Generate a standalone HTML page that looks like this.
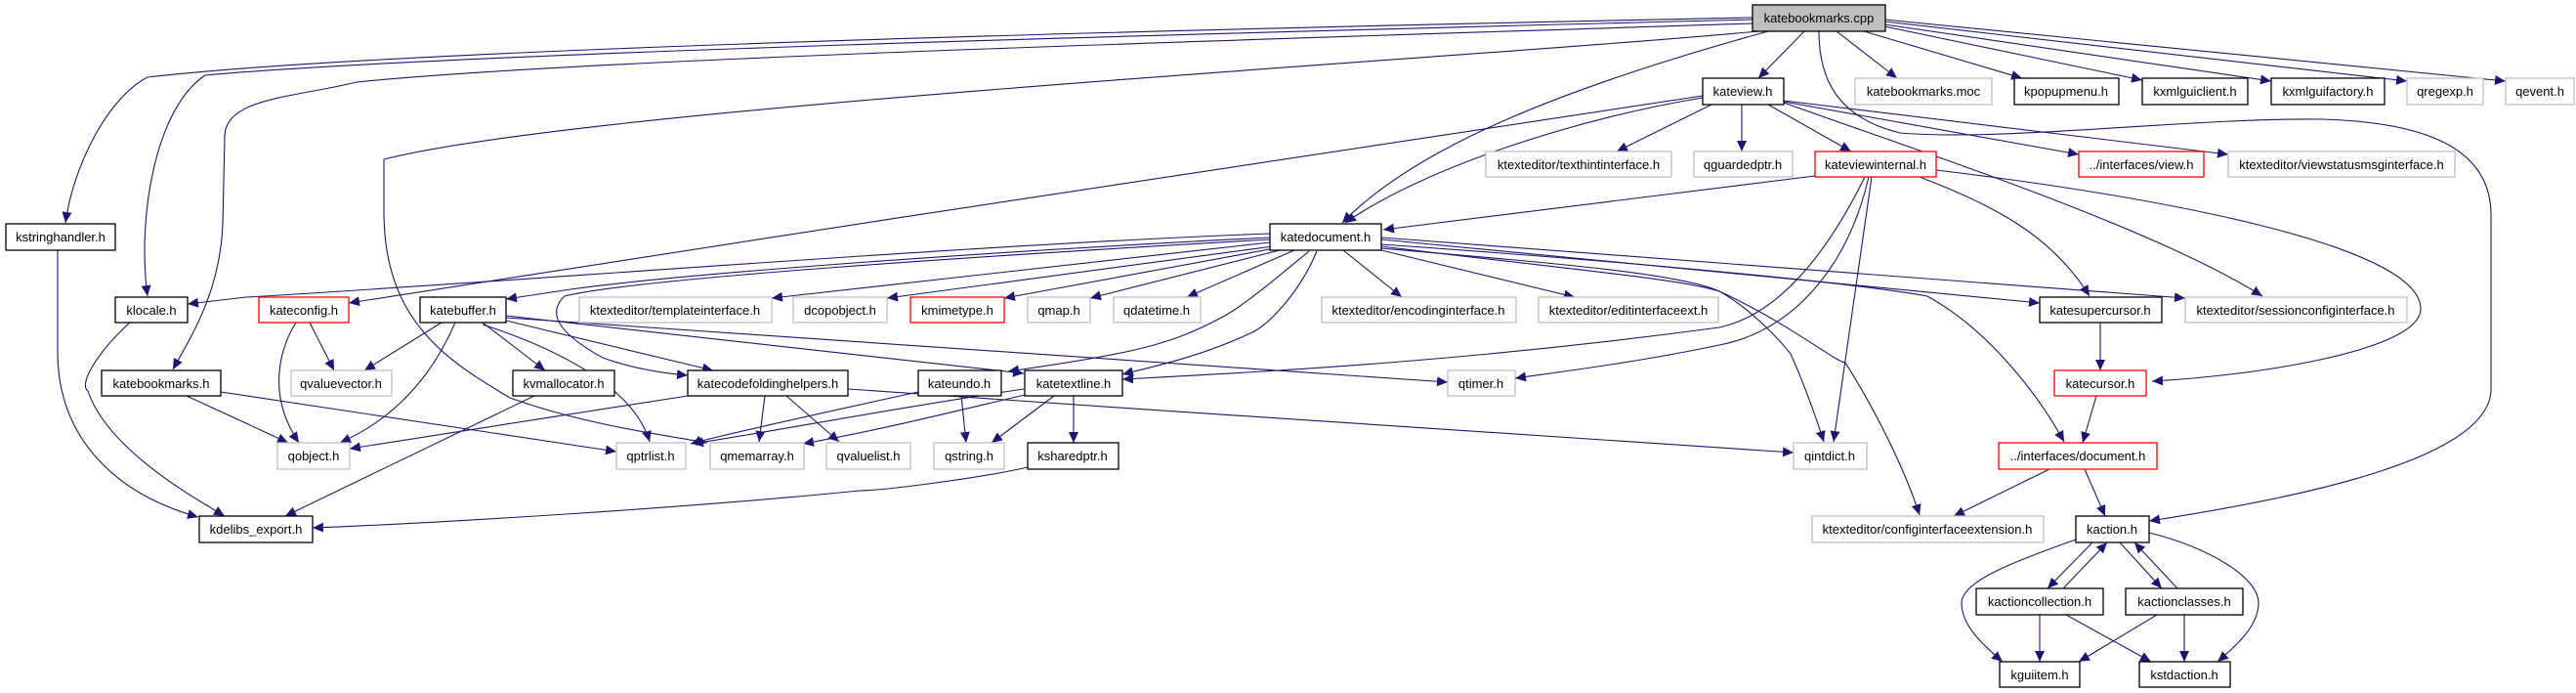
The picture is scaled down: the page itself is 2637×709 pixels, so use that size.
<!DOCTYPE html>
<html><head><meta charset="utf-8"><style>
html,body{margin:0;padding:0;background:#fff;}
svg{display:block;}
text{font-family:"Liberation Sans",sans-serif;font-size:13px;fill:#000;text-anchor:middle;}
.k{fill:#fff;stroke:#000;stroke-width:1.3;}
.g{fill:#fff;stroke:#bfbfbf;stroke-width:1.3;}
.r{fill:#fff;stroke:#ff0000;stroke-width:1.3;}
path{fill:none;stroke:#191970;stroke-width:1.1;marker-end:url(#a);}
</style></head><body>
<svg width="2637" height="709" viewBox="0 0 2637 709" xmlns="http://www.w3.org/2000/svg">
<defs><marker id="a" markerUnits="userSpaceOnUse" markerWidth="12" markerHeight="10" refX="11" refY="5" orient="auto"><polygon points="0,0 11,5 0,10" fill="#191970"/></marker></defs>
<!-- edges from cpp -->
<path d="M1794,18 C1200,30 400,50 151,79 C110,100 75,170 67,228"/>
<path d="M1794,20 C1200,35 450,55 210,77 C160,110 140,220 151,303"/>
<path d="M1794,24 C1300,40 600,60 365,84 C300,100 230,100 230,140 L228,230 C225,300 195,345 177,378"/>
<path d="M1800,32 C1500,60 600,110 393,163 L393,217 C393,330 460,370 522,407 C600,435 680,445 724,453"/>
<path d="M1810,32 C1600,90 1450,150 1374,228"/>
<path d="M1847,32 L1800,80"/>
<path d="M1880,32 L1942,80"/>
<path d="M1908,32 L2070,80"/>
<path d="M1929,27 L2193,82"/>
<path d="M1929,25 L2325,83"/>
<path d="M1929,22 L2464,83"/>
<path d="M1929,20 L2565,83"/>
<path d="M1862,32 C1862,80 1880,120 1945,136 C2050,145 2250,120 2377,122 C2480,125 2550,150 2550,220 L2550,398 C2550,470 2350,510 2200,533"/>
<!-- kateview -->
<path d="M1743,100 C1620,120 1460,170 1377,228"/>
<path d="M1743,98 C1400,150 800,240 357,310"/>
<path d="M1752,107 L1655,155"/>
<path d="M1783,107 L1783,155"/>
<path d="M1810,107 L1895,155"/>
<path d="M1826,104 L2128,158"/>
<path d="M1826,103 L2281,158"/>
<path d="M1826,105 C1950,150 2200,230 2316,303"/>
<!-- kateviewinternal -->
<path d="M1858,180 L1416,235"/>
<path d="M1965,181 C2040,210 2100,240 2139,303"/>
<path d="M1982,174 C2200,200 2478,250 2478,316 C2478,360 2300,385 2203,390"/>
<path d="M1909,181 C1880,240 1830,320 1760,335 C1500,370 1300,380 1149,388"/>
<path d="M1913,181 C1890,280 1830,340 1760,353 C1680,370 1600,380 1551,387"/>
<path d="M1916,181 L1877,452"/>
<!-- katedocument -->
<path d="M1300,239 C1000,250 500,290 252,304 L192,311"/>
<path d="M1300,243 C1000,258 700,280 584,296 L518,306"/>
<path d="M1300,248 L790,305"/>
<path d="M1303,252 L908,305"/>
<path d="M1305,254 L1028,305"/>
<path d="M1310,256 L1116,305"/>
<path d="M1325,256 L1215,304"/>
<path d="M1375,256 L1435,304"/>
<path d="M1414,256 L1612,304"/>
<path d="M1340,257 C1300,290 1270,315 1250,325 C1200,352 1160,362 1032,380"/>
<path d="M1348,257 C1330,300 1300,330 1284,339 C1230,365 1180,375 1149,383"/>
<path d="M1300,245 C1000,262 650,285 578,303 C560,320 570,340 617,366 C650,378 680,382 704,384"/>
<path d="M1414,245 L2088,310"/>
<path d="M1414,243 L2237,305"/>
<path d="M1414,250 C1700,270 1900,290 1973,303 C2040,340 2090,410 2113,452"/>
<path d="M1414,254 C1600,270 1720,280 1760,298 C1830,330 1880,371 1889,371 C1920,420 1950,480 1965,527"/>
<path d="M1414,252 C1600,275 1720,285 1760,298 C1800,320 1833,362 1833,362 C1850,400 1860,430 1867,452"/>
<!-- katebuffer -->
<path d="M452,330 L373,379"/>
<path d="M466,330 C440,390 400,430 348,453"/>
<path d="M494,330 L558,379"/>
<path d="M518,328 L730,379"/>
<path d="M518,323 L1048,382"/>
<path d="M518,325 L1482,391"/>
<path d="M494,332 C580,360 650,400 665,452"/>
<!-- others -->
<path d="M317,330 L342,379"/>
<path d="M303,330 C290,350 270,400 306,453"/>
<path d="M191,405 L295,453"/>
<path d="M226,401 L631,462"/>
<path d="M547,405 L292,528"/>
<path d="M133,330 C100,360 80,393 90,400 C110,460 200,510 230,528"/>
<path d="M59,256 L59,362 C60,450 120,506 203,529"/>
<path d="M1052,478 C1000,490 900,502 880,502 C700,520 450,535 320,540"/>
<path d="M704,405 L358,459"/>
<path d="M783,405 L777,452"/>
<path d="M805,405 L859,452"/>
<path d="M868,398 C1200,420 1600,450 1836,463"/>
<path d="M940,401 C880,414 760,440 707,454"/>
<path d="M1049,404 C960,425 900,440 822,454"/>
<path d="M1048,398 C900,420 800,440 709,454"/>
<path d="M984,405 L989,453"/>
<path d="M1079,405 L1015,453"/>
<path d="M1099,405 L1099,453"/>
<path d="M2150,330 L2150,379"/>
<path d="M2146,405 L2132,453"/>
<path d="M2098,480 L2000,528"/>
<path d="M2134,480 L2155,528"/>
<path d="M2142,555 L2096,602"/>
<path d="M2112,602 L2157,555"/>
<path d="M2170,555 L2213,602"/>
<path d="M2229,602 L2185,555"/>
<path d="M2125,552 C2060,575 2008,595 2008,617 C2008,640 2030,660 2050,677"/>
<path d="M2200,545 C2260,560 2312,590 2312,617 C2312,640 2290,660 2270,677"/>
<path d="M2088,629 L2088,677"/>
<path d="M2115,629 L2202,677"/>
<path d="M2208,629 L2128,677"/>
<path d="M2236,629 L2236,677"/>
<!-- nodes -->
<rect x="1794" y="5" width="136" height="27" fill="#bfbfbf" stroke="#000" stroke-width="1.3"/><text x="1862" y="23">katebookmarks.cpp</text>
<rect class="k" x="6" y="229" width="112" height="27"/><text x="62" y="247">kstringhandler.h</text>
<rect class="k" x="118" y="304" width="74" height="26"/><text x="155" y="322">klocale.h</text>
<rect class="r" x="265" y="304" width="92" height="26"/><text x="311" y="322">kateconfig.h</text>
<rect class="k" x="430" y="304" width="88" height="26"/><text x="474" y="322">katebuffer.h</text>
<rect class="g" x="593" y="304" width="197" height="26"/><text x="691" y="322">ktexteditor/templateinterface.h</text>
<rect class="g" x="812" y="304" width="96" height="26"/><text x="860" y="322">dcopobject.h</text>
<rect class="r" x="932" y="304" width="96" height="26"/><text x="980" y="322">kmimetype.h</text>
<rect class="g" x="1052" y="304" width="64" height="26"/><text x="1084" y="322">qmap.h</text>
<rect class="g" x="1140" y="304" width="89" height="26"/><text x="1184" y="322">qdatetime.h</text>
<rect class="g" x="1353" y="304" width="199" height="26"/><text x="1452" y="322">ktexteditor/encodinginterface.h</text>
<rect class="g" x="1575" y="304" width="184" height="26"/><text x="1667" y="322">ktexteditor/editinterfaceext.h</text>
<rect class="k" x="2088" y="304" width="125" height="26"/><text x="2150" y="322">katesupercursor.h</text>
<rect class="g" x="2237" y="304" width="227" height="26"/><text x="2350" y="322">ktexteditor/sessionconfiginterface.h</text>
<rect class="k" x="104" y="379" width="122" height="26"/><text x="165" y="397">katebookmarks.h</text>
<rect class="g" x="298" y="379" width="103" height="26"/><text x="349" y="397">qvaluevector.h</text>
<rect class="k" x="525" y="379" width="104" height="26"/><text x="577" y="397">kvmallocator.h</text>
<rect class="k" x="704" y="379" width="164" height="26"/><text x="786" y="397">katecodefoldinghelpers.h</text>
<rect class="k" x="940" y="379" width="85" height="26"/><text x="982" y="397">kateundo.h</text>
<rect class="k" x="1049" y="379" width="100" height="26"/><text x="1099" y="397">katetextline.h</text>
<rect class="g" x="1482" y="379" width="69" height="26"/><text x="1516" y="397">qtimer.h</text>
<rect class="r" x="2103" y="379" width="94" height="26"/><text x="2150" y="397">katecursor.h</text>
<rect class="g" x="284" y="453" width="74" height="27"/><text x="321" y="471">qobject.h</text>
<rect class="g" x="631" y="453" width="71" height="27"/><text x="666" y="471">qptrlist.h</text>
<rect class="g" x="727" y="453" width="96" height="27"/><text x="775" y="471">qmemarray.h</text>
<rect class="g" x="846" y="453" width="86" height="27"/><text x="889" y="471">qvaluelist.h</text>
<rect class="g" x="956" y="453" width="72" height="27"/><text x="992" y="471">qstring.h</text>
<rect class="k" x="1052" y="453" width="93" height="27"/><text x="1098" y="471">ksharedptr.h</text>
<rect class="g" x="1836" y="453" width="75" height="27"/><text x="1873" y="471">qintdict.h</text>
<rect class="r" x="2046" y="453" width="162" height="27"/><text x="2127" y="471">../interfaces/document.h</text>
<rect class="k" x="204" y="528" width="116" height="27"/><text x="262" y="546">kdelibs_export.h</text>
<rect class="g" x="1855" y="528" width="237" height="27"/><text x="1973" y="546">ktexteditor/configinterfaceextension.h</text>
<rect class="k" x="2125" y="528" width="75" height="27"/><text x="2162" y="546">kaction.h</text>
<rect class="k" x="2023" y="602" width="130" height="27"/><text x="2088" y="620">kactioncollection.h</text>
<rect class="k" x="2176" y="602" width="120" height="27"/><text x="2236" y="620">kactionclasses.h</text>
<rect class="k" x="2047" y="677" width="82" height="26"/><text x="2088" y="695">kguiitem.h</text>
<rect class="k" x="2190" y="677" width="93" height="26"/><text x="2236" y="695">kstdaction.h</text>
<rect class="k" x="1300" y="229" width="114" height="27"/><text x="1357" y="247">katedocument.h</text>
<rect class="k" x="1743" y="80" width="83" height="27"/><text x="1784" y="98">kateview.h</text>
<rect class="g" x="1899" y="80" width="140" height="27"/><text x="1969" y="98">katebookmarks.moc</text>
<rect class="k" x="2062" y="80" width="107" height="27"/><text x="2115" y="98">kpopupmenu.h</text>
<rect class="k" x="2193" y="80" width="108" height="27"/><text x="2247" y="98">kxmlguiclient.h</text>
<rect class="k" x="2325" y="80" width="116" height="27"/><text x="2383" y="98">kxmlguifactory.h</text>
<rect class="g" x="2464" y="80" width="78" height="27"/><text x="2503" y="98">qregexp.h</text>
<rect class="g" x="2565" y="80" width="70" height="27"/><text x="2600" y="98">qevent.h</text>
<rect class="g" x="1521" y="155" width="190" height="26"/><text x="1616" y="173">ktexteditor/texthintinterface.h</text>
<rect class="g" x="1734" y="155" width="101" height="26"/><text x="1784" y="173">qguardedptr.h</text>
<rect class="r" x="1858" y="155" width="124" height="26"/><text x="1920" y="173">kateviewinternal.h</text>
<rect class="r" x="2128" y="155" width="128" height="26"/><text x="2192" y="173">../interfaces/view.h</text>
<rect class="g" x="2281" y="155" width="232" height="26"/><text x="2397" y="173">ktexteditor/viewstatusmsginterface.h</text>
</svg>
</body></html>
